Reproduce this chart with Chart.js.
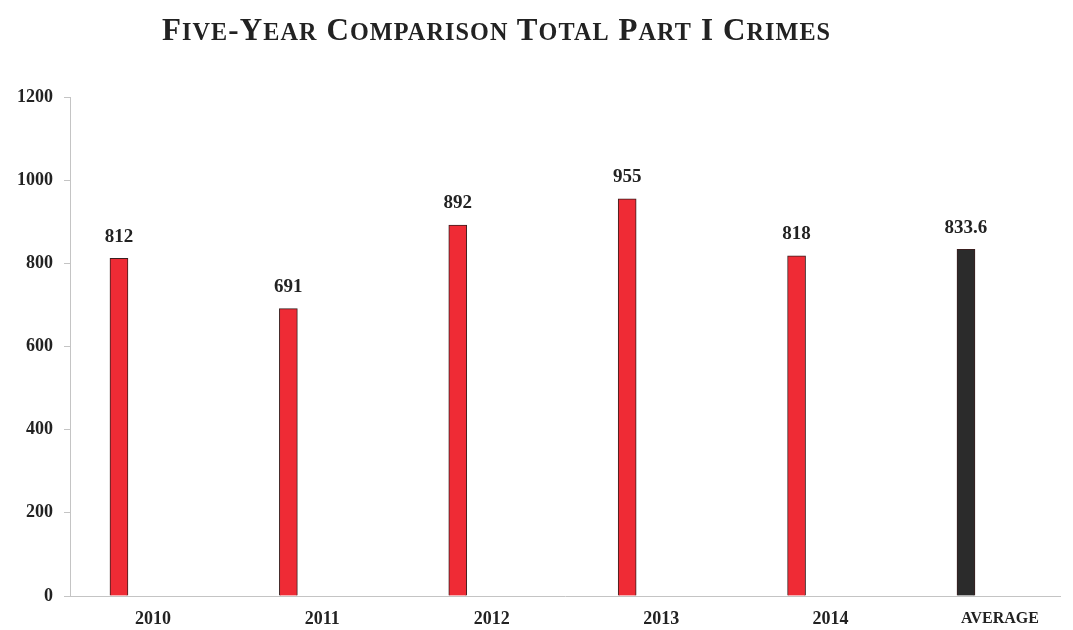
<!DOCTYPE html>
<html>
<head>
<meta charset="utf-8">
<script src="https://cdn.jsdelivr.net/npm/chart.js@4"></script>
<style>
  html, body { margin: 0; padding: 0; background: #fff; }
  #wrap { position: relative; width: 1073px; height: 630px; }
  #title {
    position: absolute; left: 162px; top: 12px;
    font: bold 31px "Liberation Serif", "Times New Roman", serif;
    letter-spacing: 1.1px; color: #222; white-space: nowrap;
  }
  #title span { font-size: 0.78em; }
</style>
</head>
<body>
<div id="wrap">
  <div id="title">F<span>IVE</span>-Y<span>EAR</span> C<span>OMPARISON</span> T<span>OTAL</span> P<span>ART</span> I C<span>RIMES</span></div>
  <canvas id="chart" width="1073" height="630"></canvas>
</div>
<script>
// dati del grafico
const categories = ['2010', '2011', '2012', '2013', '2014', 'AVERAGE'];
const crimes = [812, 691, 892, 955, 818, 833.6];
const barColors = ['#ef2b35', '#ef2b35', '#ef2b35', '#ef2b35', '#ef2b35', '#2b2b2b'];
const yTicks = [0, 200, 400, 600, 800, 1000, 1200];

const serif = '"Liberation Serif", "Times New Roman", serif';

// etichette sopra le barre
const valueLabels = {
  id: 'valueLabels',
  afterDatasetsDraw(chart) {
    const ctx = chart.ctx;
    const meta = chart.getDatasetMeta(0);
    ctx.save();
    ctx.font = 'bold 19px ' + serif;
    ctx.fillStyle = '#222';
    ctx.textAlign = 'center';
    ctx.textBaseline = 'bottom';
    meta.data.forEach((bar, i) => {
      ctx.fillText(String(crimes[i]), bar.x, bar.y - 12);
    });
    ctx.restore();
  }
};

const xMin = -0.289, xMax = 5.555;
const labelShift = 34 / 169.4; // le etichette dell'asse sono spostate a destra

new Chart(document.getElementById('chart'), {
  type: 'bar',
  data: {
    datasets: [{
      data: crimes.map((v, i) => ({ x: i, y: v })),
      backgroundColor: barColors,
      borderColor: '#3a1f1f',
      borderWidth: 1,
      barThickness: 18
    }]
  },
  options: {
    responsive: false,
    animation: false,
    layout: { padding: { top: 97, right: 13, left: 0, bottom: 0 } },
    plugins: { legend: { display: false }, tooltip: { enabled: false } },
    scales: {
      x: {
        type: 'linear',
        offset: false,
        min: xMin, max: xMax,
        grid: { display: false },
        border: { display: true, color: '#c4c4c4', width: 1 },
        ticks: { display: false },
        afterFit: (s) => { s.height = 0; }
      },
      xl: {
        type: 'linear',
        position: 'bottom',
        offset: false,
        min: xMin - labelShift, max: xMax - labelShift,
        grid: { display: false },
        border: { display: false },
        afterBuildTicks: (s) => { s.ticks = categories.map((_, i) => ({ value: i })); },
        ticks: {
          autoSkip: false,
          maxRotation: 0,
          padding: 5,
          color: '#222',
          font: (c) => ({ family: serif, weight: 'bold', size: c.index === 5 ? 16 : 18 }),
          callback: (v) => categories[v] !== undefined ? categories[v] : ''
        },
        afterFit: (s) => { s.height = 34; }
      },
      y: {
        min: 0, max: 1200,
        afterBuildTicks: (s) => { s.ticks = yTicks.map(v => ({ value: v })); },
        grid: { drawOnChartArea: false, drawTicks: true, tickLength: 6, color: '#c4c4c4' },
        border: { display: true, color: '#c4c4c4', width: 1 },
        ticks: {
          color: '#222',
          padding: 11,
          font: { family: serif, weight: 'bold', size: 18 },
          callback: (v) => String(v)
        },
        afterFit: (s) => { s.width = 70; }
      }
    }
  },
  plugins: [valueLabels]
});
</script>
</body>
</html>
